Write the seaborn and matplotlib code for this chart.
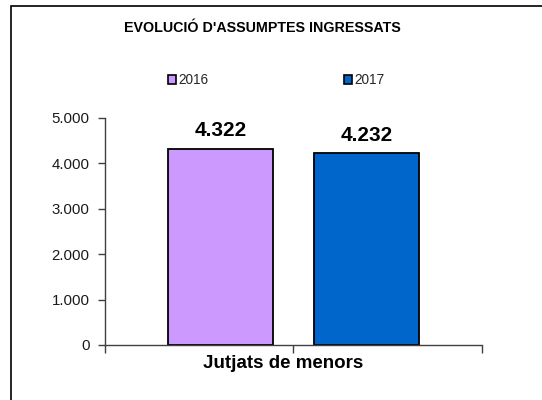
import pandas as pd
import seaborn as sns
import matplotlib.pyplot as plt
from matplotlib.patches import Patch, Rectangle
from matplotlib.ticker import FuncFormatter

# dades
categories = ["Jutjats de menors"]
years = ["2016", "2017"]
values = [4322, 4232]
colors = ["#cc99ff", "#0066cc"]

df = pd.DataFrame({
    "Categoria": categories * len(years),
    "Any": years,
    "Assumptes": values,
})

sns.set_theme(style="white")
plt.rcParams["font.family"] = ["Liberation Sans", "DejaVu Sans"]

fig = plt.figure(figsize=(5.42, 4.0), dpi=100)
ax = fig.add_axes([0.1937, 0.1375, 0.6956, 0.5675])

sns.barplot(data=df, x="Categoria", y="Assumptes", hue="Any",
            palette=colors, saturation=1, width=0.776, gap=0.28, legend=False,
            edgecolor="black", linewidth=1.3, ax=ax)

def punt_milers(v, pos=None):
    return f"{v:,.0f}".replace(",", ".")

for cont in ax.containers:
    ax.bar_label(cont, labels=[punt_milers(b.get_height()) for b in cont],
                 padding=6, fontsize=15, fontweight="bold", color="black")

ax.set_xlim(-0.5, 0.5)
ax.set_ylim(0, 5000)
ax.set_yticks([0, 1000, 2000, 3000, 4000, 5000])
ax.yaxis.set_major_formatter(FuncFormatter(punt_milers))
ax.set_xticks([0])
ax.set_xticklabels([""])
ax.set_xticks([-0.5, 0.5], minor=True)
ax.set_ylabel("")

# nom de la categoria, una mica a l'esquerra del centre com a l'original
ax.set_xlabel(categories[0], fontsize=13.5, fontweight="bold", color="black")
ax.xaxis.set_label_coords(0.472, -0.045)

for s in ["top", "right"]:
    ax.spines[s].set_visible(False)
for s in ["left", "bottom"]:
    ax.spines[s].set_color("#404040")
    ax.spines[s].set_linewidth(1.0)

ax.tick_params(axis="y", left=True, length=5, width=1, color="#404040",
               labelsize=10.8, labelcolor="#1a1a1a", pad=6)
ax.tick_params(axis="x", which="both", bottom=True, length=6, width=1,
               color="#404040", pad=3)

handles = [Patch(facecolor=c, edgecolor="black", linewidth=1.2, label=y)
           for c, y in zip(colors, years)]
fig.legend(handles=handles, loc="center", bbox_to_anchor=(0.5096, 0.80),
           ncol=2, frameon=False, fontsize=9.8, handlelength=0.6,
           handleheight=0.6, handletextpad=0.15, columnspacing=10.0)

fig.text(0.485, 0.93, "EVOLUCIÓ D'ASSUMPTES INGRESSATS", ha="center",
         va="center", fontsize=10.3, fontweight="bold", color="black")

# marc del gràfic
fig.patches.append(Rectangle((11 / 542, -0.05), 1.0, 1.05 - 6 / 400,
                             transform=fig.transFigure, fill=False,
                             edgecolor="black", linewidth=1.2))

fig.savefig("out.png", dpi=100, facecolor="white")
